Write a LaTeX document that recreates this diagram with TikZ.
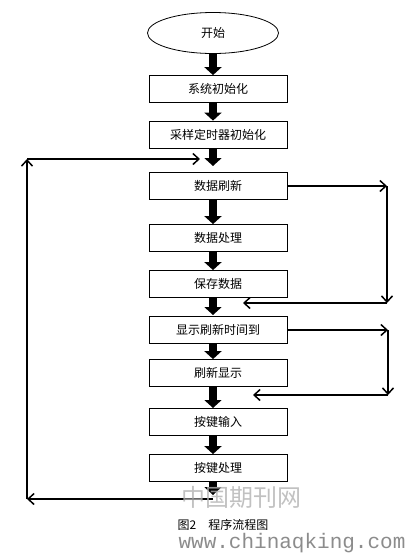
\documentclass[tikz,border=0pt]{standalone}
\usepackage{fontspec}
\newfontfamily\cjk{Noto Sans CJK SC}
\newfontfamily\wwwfont{Liberation Mono}
\usetikzlibrary{arrows.meta}
\usetikzlibrary{shapes.geometric}

\begin{document}
\begin{tikzpicture}[x=1pt, y=-1pt,
  every node/.style={font=\cjk\fontsize{12}{14}\selectfont},
  stepbox/.style={draw, line width=0.8pt, minimum width=138pt, minimum height=27pt, inner sep=0pt},
  startnode/.style={draw, ellipse, line width=0.8pt, minimum width=131pt, minimum height=41pt, inner sep=0pt},
  bigarrow/.style={line width=8pt, -{Triangle[length=8pt,width=17pt]}},
  loopline/.style={line width=1.5pt, -{Straight Barb[length=6pt,width=11pt]}}]

  \useasboundingbox (0,0) rectangle (407,555);

  % Steps
  \node[startnode] (start) at (213,33) {开始};
  \node[stepbox] (init) at (218,89) {系统初始化};
  \node[stepbox] (timer) at (218,134.5) {采样定时器初始化};
  \node[stepbox] (refresh) at (218,186) {数据刷新};
  \node[stepbox] (proc) at (218,238) {数据处理};
  \node[stepbox] (save) at (218,284) {保存数据};
  \node[stepbox] (due) at (218,330) {显示刷新时间到};
  \node[stepbox] (show) at (218,373) {刷新显示};
  \node[stepbox] (keyin) at (218,422) {按键输入};
  \node[stepbox] (keyproc) at (218,468) {按键处理};

  % Free ends of the thick arrows
  \coordinate (j1) at (213,166);
  \coordinate (j2) at (213,315);
  \coordinate (j3) at (213,408);
  \coordinate (j4) at (213,495);

  \draw[bigarrow] (start.south) -- ([xshift=-5pt]init.north);
  \draw[bigarrow] ([xshift=-5pt]init.south) -- ([xshift=-5pt]timer.north);
  \draw[bigarrow] ([xshift=-5pt]timer.south) -- (j1);
  \draw[bigarrow] ([xshift=-5pt]refresh.south) -- ([xshift=-5pt]proc.north);
  \draw[bigarrow] ([xshift=-5pt]proc.south) -- ([xshift=-5pt]save.north);
  \draw[bigarrow] ([xshift=-5pt]save.south) -- (j2);
  \draw[bigarrow] ([xshift=-5pt]due.south) -- ([xshift=-5pt]show.north);
  \draw[bigarrow] ([xshift=-5pt]show.south) -- (j3);
  \draw[bigarrow] ([xshift=-5pt]keyin.south) -- ([xshift=-5pt]keyproc.north);
  \draw[bigarrow] ([xshift=-5pt]keyproc.south) -- (j4);

  % Skip of the data steps
  \coordinate (r1) at (387,186);
  \coordinate (r2) at (387,303);
  \coordinate (r3) at (243,303);
  \draw[loopline] (refresh.east) -- (r1);
  \draw[loopline] (r1) -- (r2);
  \draw[loopline] (r2) -- (r3);

  % Skip of the display step
  \coordinate (s1) at (388,330);
  \coordinate (s2) at (388,395);
  \coordinate (s3) at (253,395);
  \draw[loopline] (due.east) -- (s1);
  \draw[loopline] (s1) -- (s2);
  \draw[loopline] (s2) -- (s3);

  % Main loop back
  \coordinate (b0) at (213,499);
  \coordinate (b1) at (27,499);
  \coordinate (b2) at (27,159);
  \coordinate (b3) at (200,159);
  \draw[loopline] (b0) -- (b1);
  \draw[loopline] (b1) -- (b2);
  \draw[loopline] (b2) -- (b3);

  % Caption and marks
  \node (cap) at (223,525) {图2\quad 程序流程图};
  \node[text=black!30, opacity=0.8, font=\cjk\fontsize{24}{26}\selectfont] (mark) at (241,497) {中国期刊网};
  \node[text=black!45, font=\wwwfont\fontsize{21}{24}\selectfont, inner sep=0pt] (site) at (292,543) {www.chinaqking.com};

\end{tikzpicture}
\end{document}
